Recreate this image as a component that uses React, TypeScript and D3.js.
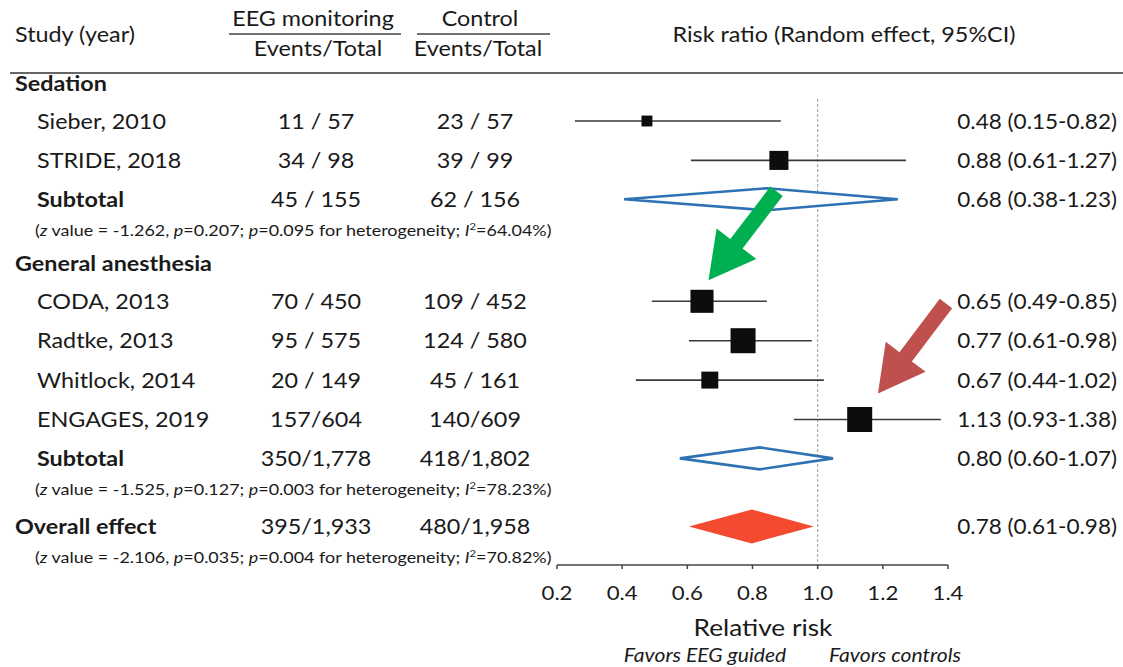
import React from 'react';
import * as d3 from 'd3';

const W = 1123;
const H = 667;
const FONT = "Lato, 'Open Sans', sans-serif";
const SX = 1.14;

// ---- data ----
const groups = ['Sedation', 'General anesthesia'];
const studyNames = ['Sieber, 2010', 'STRIDE, 2018', 'CODA, 2013', 'Radtke, 2013', 'Whitlock, 2014', 'ENGAGES, 2019'];
const studyGroup = [0, 0, 1, 1, 1, 1];
const eegEvents = ['11 / 57', '34 / 98', '70 / 450', '95 / 575', '20 / 149', '157/604'];
const ctrlEvents = ['23 / 57', '39 / 99', '109 / 452', '124 / 580', '45 / 161', '140/609'];
const studyLabels = ['0.48 (0.15-0.82)', '0.88 (0.61-1.27)', '0.65 (0.49-0.85)', '0.77 (0.61-0.98)', '0.67 (0.44-1.02)', '1.13 (0.93-1.38)'];
const studyEst = [0.476, 0.881, 0.645, 0.771, 0.669, 1.129];
const studyLow = [0.255, 0.611, 0.491, 0.605, 0.442, 0.927];
const studyHigh = [0.887, 1.271, 0.844, 0.982, 1.019, 1.378];
const studyWeight = [19, 58, 85, 100, 46, 100];

const pooledNames = ['Subtotal', 'Subtotal', 'Overall effect'];
const pooledEEG = ['45 / 155', '350/1,778', '395/1,933'];
const pooledCtrl = ['62 / 156', '418/1,802', '480/1,958'];
const pooledLabels = ['0.68 (0.38-1.23)', '0.80 (0.60-1.07)', '0.78 (0.61-0.98)'];
const pooledEst = [0.844, 0.822, 0.798];
const pooledLow = [0.406, 0.577, 0.605];
const pooledHigh = [1.246, 1.047, 0.988];
const noteZ = ['-1.262', '-1.525', '-2.106'];
const noteP = ['0.207', '0.127', '0.035'];
const noteHetP = ['0.095', '0.003', '0.004'];
const noteI2 = ['64.04', '78.23', '70.82'];

const xTicks = [0.2, 0.4, 0.6, 0.8, 1.0, 1.2, 1.4];

// ---- layout helpers ----
type Row = { kind: 'group' | 'study' | 'sub' | 'note' | 'overall'; idx: number };

function buildRows(): Row[] {
  const rows: Row[] = [];
  groups.forEach((_, g) => {
    rows.push({ kind: 'group', idx: g });
    studyGroup.forEach((sg, i) => { if (sg === g) rows.push({ kind: 'study', idx: i }); });
    rows.push({ kind: 'sub', idx: g });
    rows.push({ kind: 'note', idx: g });
  });
  rows.push({ kind: 'overall', idx: 2 });
  rows.push({ kind: 'note', idx: 2 });
  return rows;
}

function gap(prev: Row, cur: Row): number {
  if (cur.kind === 'note') return 31;
  if (cur.kind === 'group') return 33;
  if (cur.kind === 'overall') return 37;
  if (prev.kind === 'group') return 37.5;
  return 39.4;
}

function T(props: any) {
  const { x, y, anchor = 'start', size = 20.5, weight = 400, italic = false, fill = '#1a1a1a', sx = SX, children } = props;
  return (
    <text
      transform={`translate(${x},${y}) scale(${sx},1)`}
      textAnchor={anchor}
      fontSize={size}
      fontWeight={weight}
      fontStyle={italic ? 'italic' : 'normal'}
      fontFamily={FONT}
      fill={fill}
    >
      {children}
    </text>
  );
}

function Arrow({ tip, dx, dy, color }: { tip: [number, number]; dx: number; dy: number; color: string }) {
  const len = Math.hypot(dx, dy);
  const ux = -dx / len, uy = -dy / len; // from tail toward tip
  const px = -uy, py = ux;
  const shaftW = 15.5, headW = 50, headL = 46;
  const [tx, ty] = tip;
  const tail: [number, number] = [tx + dx, ty + dy];
  const bx = tx - ux * headL, by = ty - uy * headL;
  const pts: [number, number][] = [
    [tail[0] + px * shaftW / 2, tail[1] + py * shaftW / 2],
    [bx + px * shaftW / 2, by + py * shaftW / 2],
    [bx + px * headW / 2, by + py * headW / 2],
    [tx, ty],
    [bx - px * headW / 2, by - py * headW / 2],
    [bx - px * shaftW / 2, by - py * shaftW / 2],
    [tail[0] - px * shaftW / 2, tail[1] - py * shaftW / 2],
  ];
  return <polygon points={pts.map((p) => p.join(',')).join(' ')} fill={color} />;
}

export default function App() {
  const x = d3.scaleLinear().domain([0.2, 1.4]).range([557, 948]);
  const sizeScale = d3.scaleSqrt().domain([0, 100]).range([0, 25]);

  const rows = buildRows();
  const ys: number[] = [];
  rows.forEach((r, i) => {
    ys.push(i === 0 ? 84 : ys[i - 1] + gap(rows[i - 1], r));
  });

  const colName = 37;
  const colGroup = 15;
  const colEEG = 316;
  const colCtrl = 475;
  const colRight = 1117;
  const axisY = 565;
  const plotTop = 99;
  const tb = 7; // baseline offset from row center

  const diamond = (lo: number, est: number, hi: number, y: number, h: number) =>
    `M${x(lo)},${y} L${x(est)},${y - h / 2} L${x(hi)},${y} L${x(est)},${y + h / 2} Z`;

  const elements: React.ReactNode[] = [];
  let codaY = 0, engagesY = 0;

  rows.forEach((r, i) => {
    const y = ys[i];
    if (r.kind === 'group') {
      elements.push(<T key={`g${i}`} x={colGroup} y={y + tb} weight={700}>{groups[r.idx]}</T>);
    } else if (r.kind === 'study') {
      const k = r.idx;
      const my = y - 0.5;
      if (k === 2) codaY = my;
      if (k === 5) engagesY = my;
      const s = sizeScale(studyWeight[k]);
      elements.push(
        <g key={`s${i}`}>
          <T x={colName} y={y + tb}>{studyNames[k]}</T>
          <T x={colEEG} y={y + tb} anchor="middle">{eegEvents[k]}</T>
          <T x={colCtrl} y={y + tb} anchor="middle">{ctrlEvents[k]}</T>
          <T x={colRight} y={y + tb} anchor="end" sx={1.1}>{studyLabels[k]}</T>
          <line x1={x(studyLow[k])} x2={x(studyHigh[k])} y1={my} y2={my} stroke="#3a3a3a" strokeWidth={1.6} />
          <rect x={x(studyEst[k]) - s / 2} y={my - s / 2} width={s} height={s} fill="#0d0d0d" />
        </g>
      );
    } else if (r.kind === 'sub' || r.kind === 'overall') {
      const k = r.idx;
      const isOverall = r.kind === 'overall';
      const my = y - 1;
      elements.push(
        <g key={`p${i}`}>
          <T x={isOverall ? colGroup : colName} y={y + tb} weight={700}>{pooledNames[k]}</T>
          <T x={colEEG} y={y + tb} anchor="middle">{pooledEEG[k]}</T>
          <T x={colCtrl} y={y + tb} anchor="middle">{pooledCtrl[k]}</T>
          <T x={colRight} y={y + tb} anchor="end" sx={1.1}>{pooledLabels[k]}</T>
          {isOverall ? (
            <path d={diamond(pooledLow[k], pooledEst[k], pooledHigh[k], my, 34)} fill="#F44A30" />
          ) : (
            <path d={diamond(pooledLow[k], pooledEst[k], pooledHigh[k], my, 22)} fill="#fff" stroke="#2F72B4" strokeWidth={2.6} />
          )}
        </g>
      );
    } else if (r.kind === 'note') {
      const k = r.idx;
      elements.push(
        <T key={`n${i}`} x={35} y={y + 5} size={15.2} sx={1.18}>
          <tspan>(</tspan>
          <tspan fontStyle="italic">z</tspan>
          <tspan>{` value = ${noteZ[k]}, `}</tspan>
          <tspan fontStyle="italic">p</tspan>
          <tspan>{`=${noteP[k]}; `}</tspan>
          <tspan fontStyle="italic">p</tspan>
          <tspan>{`=${noteHetP[k]} for heterogeneity; `}</tspan>
          <tspan fontStyle="italic">I</tspan>
          <tspan fontSize={9.5} dy={-6}>2</tspan>
          <tspan dy={6}>{`=${noteI2[k]}%)`}</tspan>
        </T>
      );
    }
  });

  return (
    <svg width={W} height={H} style={{ display: 'block', position: 'absolute', left: 0, top: 0, background: '#fff' }}>
      <rect width={W} height={H} fill="#fff" />
      {/* header */}
      <T x={15} y={42}>Study (year)</T>
      <T x={313} y={26} anchor="middle">EEG monitoring</T>
      <T x={480} y={26} anchor="middle">Control</T>
      <line x1={229} x2={401} y1={34} y2={34} stroke="#444" strokeWidth={1.5} />
      <line x1={417} x2={550} y1={34} y2={34} stroke="#444" strokeWidth={1.5} />
      <T x={318} y={56} anchor="middle">Events/Total</T>
      <T x={478} y={56} anchor="middle">Events/Total</T>
      <T x={844} y={42} anchor="middle">Risk ratio (Random effect, 95%CI)</T>
      <line x1={10} x2={W} y1={73} y2={73} stroke="#666" strokeWidth={2} />

      {/* null line */}
      <line x1={x(1)} x2={x(1)} y1={plotTop} y2={axisY} stroke="#9a9a9a" strokeWidth={1} strokeDasharray="3,2" />

      {elements}

      {/* axis */}
      <line x1={x(0.2)} x2={x(1.4)} y1={axisY} y2={axisY} stroke="#444" strokeWidth={1.5} />
      {xTicks.map((t) => (
        <g key={t}>
          <line x1={x(t)} x2={x(t)} y1={axisY} y2={axisY + 4} stroke="#444" strokeWidth={1.5} />
          <T x={x(t)} y={600} anchor="middle" size={19.5}>{t.toFixed(1)}</T>
        </g>
      ))}
      <T x={763} y={636} anchor="middle" size={23}>Relative risk</T>
      <T x={705} y={662} anchor="middle" size={18.5} italic>Favors EEG guided</T>
      <T x={895} y={662} anchor="middle" size={18.5} italic>Favors controls</T>

      {/* annotations */}
      <Arrow tip={[x(0.665), codaY - 21]} dx={68} dy={-89} color="#00B050" />
      <Arrow tip={[x(1.185), engagesY - 26]} dx={68} dy={-90} color="#C0504D" />
    </svg>
  );
}
